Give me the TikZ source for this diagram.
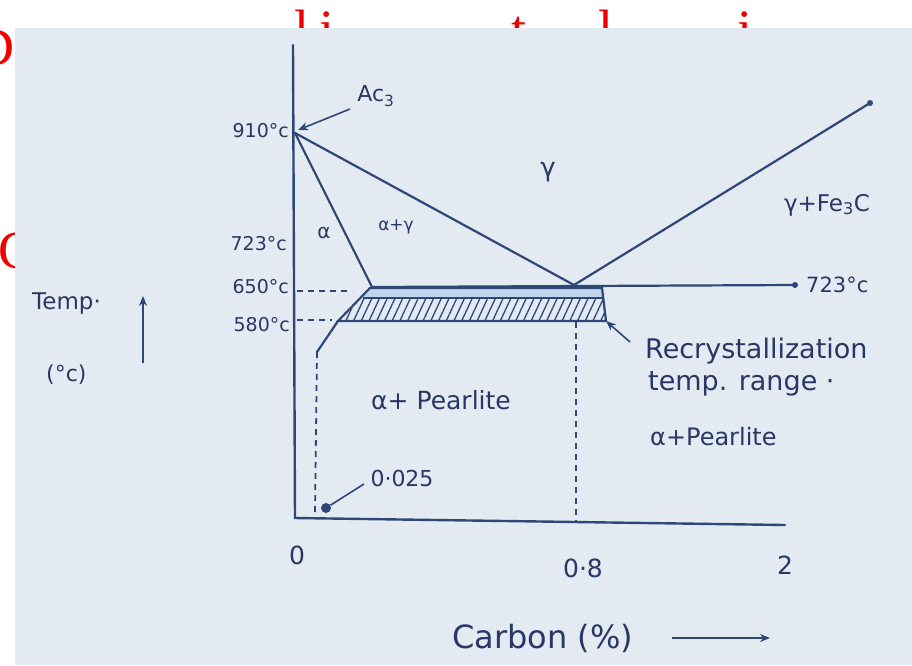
\documentclass[tikz,border=0pt]{standalone}
\usepackage{fontspec}
\newfontfamily\redfont{Liberation Serif}
\newfontfamily\handfont{DejaVu Sans}
\usetikzlibrary{arrows.meta,patterns.meta}
\definecolor{inkc}{RGB}{40,55,100}
\definecolor{linec}{RGB}{45,72,118}
\definecolor{photoc}{RGB}{228,234,241}
\definecolor{stripc}{RGB}{170,200,235}
\definecolor{slidered}{RGB}{240,0,0}
\begin{document}
\begin{tikzpicture}[x=1pt,y=-1pt,
  lbl/.style={text=inkc, inner sep=0pt, font=\handfont\fontsize{#1}{#1}\selectfont},
  lbl/.default=20,
  redtxt/.style={text=slidered, inner sep=0pt, font=\redfont\fontsize{54}{54}\selectfont},
  phase/.style={draw=linec, line width=2.2pt, line cap=round},
  axisln/.style={draw=linec, line width=2.4pt, line cap=round},
  dashln/.style={draw=linec, line width=1.8pt, dash pattern=on 6pt off 5pt},
  ptr/.style={draw=linec, line width=1.6pt, -{Stealth[length=10pt,width=8pt]}},
  enddot/.style={circle, fill=linec, inner sep=0pt, minimum size=6pt}]
\useasboundingbox (0,0) rectangle (912,665);
\fill[white] (0,0) rectangle (912,665);
% red slide text fragments (mostly hidden behind the photo)
\node[redtxt, anchor=base] (r1) at (302,47) {l};
\node[redtxt, anchor=base] (r2) at (327,47) {i};
\node[redtxt, anchor=base] (r3) at (519,47) {t};
\node[redtxt, anchor=base] (r4) at (606,47) {l};
\node[redtxt, anchor=base] (r5) at (745,47) {i};
\node[redtxt, anchor=base east] (r6) at (15,65) {D};
\node[redtxt, anchor=base west] (r7) at (-2,268) {C};
% photo
\fill[photoc] (15,28) rectangle (912,665);

% key points
\coordinate (O) at (295,518);
\coordinate (Ytop) at (293,45);
\coordinate (Xend) at (785,525);
\coordinate (A3) at (295,133);
\coordinate (E) at (574,285);
\coordinate (L) at (372,287);
\coordinate (Cm) at (870,103);
\coordinate (Rend) at (795,285);
\coordinate (BTL) at (370,288);
\coordinate (BTR) at (602,288);
\coordinate (BBR) at (606,321);
\coordinate (BBL) at (338,321);
\coordinate (Bend) at (317,352);
\coordinate (Dbot) at (315,512);
\coordinate (Etop) at (576,322);
\coordinate (Ebot) at (576,523);

% recrystallization band
\fill[stripc!60!photoc] (BTL) -- (BTR) -- (603,298) -- (363,298) -- cycle;
\fill[pattern={Lines[angle=65,distance=7pt,line width=1.3pt]}, pattern color=linec]
  (363,298) -- (603,298) -- (BBR) -- (BBL) -- cycle;
\draw[phase] (BTL) -- (BTR) -- (BBR) -- (BBL) -- cycle;
\draw[draw=linec, line width=1.2pt] (363,298) -- (603,298);

% axes
\draw[axisln] (Ytop) -- (O) -- (Xend);

% phase boundaries
\draw[phase] (A3) -- (E);
\draw[phase] (A3) -- (L);
\draw[phase] (E) -- (Cm);
\draw[phase] (L) -- (Rend);
\node[enddot] (dCm) at (Cm) {};
\node[enddot] (dR) at (Rend) {};

% dashed lines
\draw[dashln] (297,291) -- (352,291);
\draw[dashln] (297,320) -- (332,320);
\draw[phase] (BBL) -- (Bend);
\draw[dashln] (Bend) -- (Dbot);
\draw[dashln] (Etop) -- (Ebot);

% y labels
\node[lbl=19, anchor=east] (t910) at (289,131) {910°c};
\node[lbl=19, anchor=east] (t723) at (287,244) {723°c};
\node[lbl=19, anchor=east] (t650) at (289,287) {650°c};
\node[lbl=19, anchor=east] (t580) at (290,325) {580°c};

% Ac3
\node[lbl=22] (ac3) at (376,96) {Ac\textsubscript{3}};
\coordinate (acTip) at (298,130);
\coordinate (acTail) at (350,109);
\draw[ptr] (acTail) -- (acTip);

% region labels
\node[lbl=26] (gam) at (548,172) {γ};
\node[lbl=20] (al) at (324,233) {α};
\node[lbl=17] (alg) at (396,227) {α+γ};
\node[lbl=23] (gfe) at (827,205) {γ+Fe\textsubscript{3}C};
\node[lbl=25] (alp) at (441,400) {α+ Pearlite};
\node[lbl=21, anchor=west] (r723) at (806,285) {723°c};

% 0.025
\node[enddot, minimum size=10pt] (blob) at (326,508) {};
\node[lbl=22] (c025) at (402,478) {0·025};
\coordinate (c025tail) at (364,484);
\draw[line width=1.6pt, draw=linec] (c025tail) -- (blob);

% recrystallization
\node[lbl=27, anchor=west] (rec) at (645,351) {Recrystallization};
\node[lbl=27, anchor=west] (trng) at (648,384) {temp. range ·};
\node[lbl=24, anchor=west] (ap2) at (650,437) {α+Pearlite};
\coordinate (recTail) at (630,342);
\draw[ptr] (recTail) -- (BBR);

% axis tick labels
\node[lbl=25] (x0) at (297,555) {0};
\node[lbl=25] (x08) at (583,568) {0·8};
\node[lbl=25] (x2) at (785,565) {2};

% axis titles
\node[lbl=23, anchor=west] (temp) at (32,303) {Temp·};
\node[lbl=22, anchor=west] (degc) at (46,375) {(°c)};
\coordinate (tA) at (143,363);
\coordinate (tB) at (143,296);
\draw[ptr, line width=2pt] (tA) -- (tB);
\node[lbl=32, anchor=west] (carb) at (452,638) {Carbon (\%)};
\coordinate (cA) at (672,638);
\coordinate (cB) at (770,638);
\draw[ptr, line width=1.8pt] (cA) -- (cB);
\end{tikzpicture}
\end{document}
